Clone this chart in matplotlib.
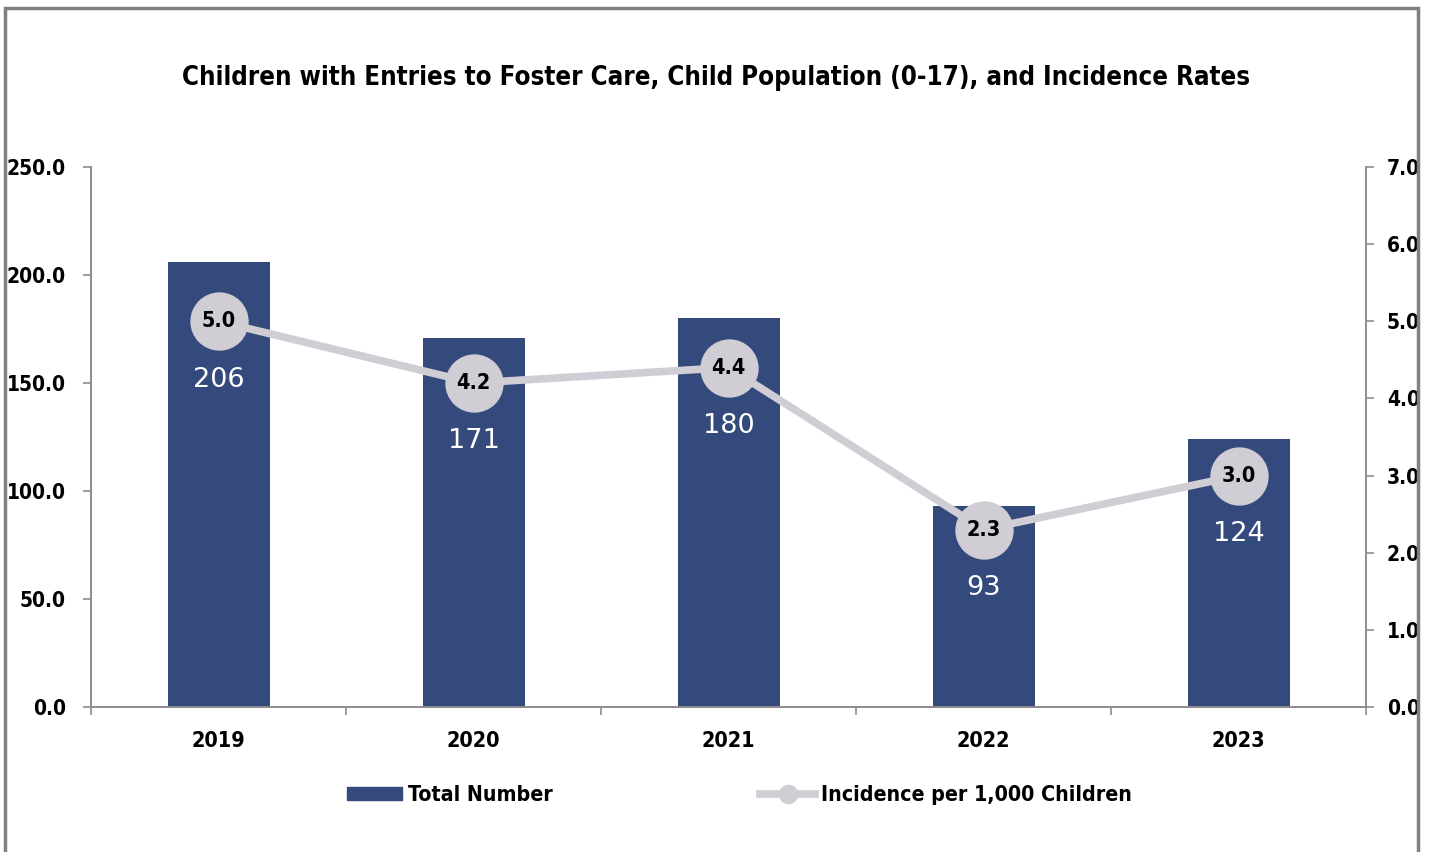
import matplotlib
matplotlib.use("Agg")
import matplotlib.pyplot as plt
from matplotlib import font_manager
from matplotlib.font_manager import FontProperties
from matplotlib.patches import Rectangle, Patch
from matplotlib.lines import Line2D

years = ["2019", "2020", "2021", "2022", "2023"]
total_number = [206, 171, 180, 93, 124]
incidence = [5.0, 4.2, 4.4, 2.3, 3.0]
left_ticks = [0, 50, 100, 150, 200, 250]
right_ticks = [0, 1, 2, 3, 4, 5, 6, 7]


def pick_narrow_bold():
    """Look for an installed condensed/narrow bold face."""
    best = None
    for f in font_manager.fontManager.ttflist:
        tag = (f.name + " " + f.fname).lower()
        narrow = ("narrow" in tag or "condensed" in tag
                  or str(f.stretch) in ("condensed", "semi-condensed", "extra-condensed"))
        if not narrow or "mono" in tag or "italic" in tag or "oblique" in tag:
            continue
        w = f.weight if isinstance(f.weight, int) else (700 if "bold" in str(f.weight) else 400)
        score = abs(w - 700)
        if best is None or score < best[0]:
            best = (score, f.fname)
    return best[1] if best else None


narrow_file = pick_narrow_bold()
if narrow_file:
    def bold(size):
        return FontProperties(fname=narrow_file, size=size)
    scale = 1.0
else:
    def bold(size):
        return FontProperties(family=["Liberation Sans", "DejaVu Sans"], weight="bold", size=size)
    scale = 0.85

bar_color = "#344a7c"
line_color = "#d1cdd5"
axis_gray = "#8c8c8c"
tick_size = 15 * scale

fig = plt.figure(figsize=(14.32, 8.52), dpi=100)
ax = fig.add_axes([91 / 1432, 1 - 707 / 852, 1275 / 1432, 540 / 852])
ax2 = ax.twinx()

x = list(range(len(years)))
ax.bar(x, total_number, width=0.4, color=bar_color, zorder=2)
ax.set_xlim(-0.5, len(years) - 0.5)
ax.set_ylim(0, 250)
ax.set_yticks(left_ticks)
ax.set_yticklabels([f"{v:.1f}" for v in left_ticks], fontproperties=bold(tick_size))
ax.set_xticks(x)
ax.set_xticklabels(years, fontproperties=bold(tick_size + 0.5))
ax.set_xticks([i - 0.5 for i in range(len(years) + 1)], minor=True)
ax.tick_params(axis="x", which="major", length=0, pad=17)
ax.tick_params(axis="x", which="minor", length=6, color=axis_gray, width=1.2)
ax.tick_params(axis="y", length=6, color=axis_gray, width=1.2, pad=12)

ax2.plot(x, incidence, color=line_color, lw=5.5, marker="o", markersize=41,
         markerfacecolor=line_color, markeredgecolor=line_color, zorder=3,
         solid_capstyle="butt")
ax2.set_ylim(0, 7)
ax2.set_yticks(right_ticks)
ax2.set_yticklabels([f"{v:.1f}" for v in right_ticks], fontproperties=bold(tick_size))
ax2.tick_params(axis="y", length=6, color=axis_gray, width=1.2, pad=9)

for a in (ax, ax2):
    a.spines["top"].set_visible(False)
    for s in ("left", "right", "bottom"):
        a.spines[s].set_color(axis_gray)
        a.spines[s].set_linewidth(1.2)

for i, (rate, total) in enumerate(zip(incidence, total_number)):
    ax2.annotate(f"{rate:.1f}", (i, rate), ha="center", va="center",
                 fontproperties=bold(15.5 * scale), color="black", zorder=4)
    ax2.annotate(f"{total}", (i, rate), xytext=(0, -42), textcoords="offset points",
                 ha="center", va="center", fontsize=19.5, color="white",
                 family="DejaVu Sans", zorder=4)

fig.text(0.5, 1 - 78 / 852,
         "Children with Entries to Foster Care, Child Population (0-17), and Incidence Rates",
         ha="center", va="center", fontproperties=bold(18.5 * scale))

legend_y = 1 - 795 / 852
common = dict(loc="center left", frameon=False, borderpad=0, borderaxespad=0,
              handlelength=2.6, handletextpad=0.25, handleheight=0.6,
              prop=bold(15.3 * scale))
fig.legend([Patch(facecolor=bar_color, edgecolor=bar_color)], ["Total Number"],
           bbox_to_anchor=(347 / 1432, legend_y), **common)
fig.legend([Line2D([0], [0], color=line_color, lw=5.5, marker="o", markersize=13,
                   markerfacecolor=line_color, markeredgecolor=line_color)],
           ["Incidence per 1,000 Children"],
           bbox_to_anchor=(760 / 1432, legend_y), **common)

fig.patches.append(Rectangle((5 / 1432, -0.1), 1413 / 1432, 1.1 - 8 / 852,
                             transform=fig.transFigure, fill=False,
                             edgecolor="#808080", linewidth=2.5))

fig.savefig("out.png", dpi=100, facecolor="white")
